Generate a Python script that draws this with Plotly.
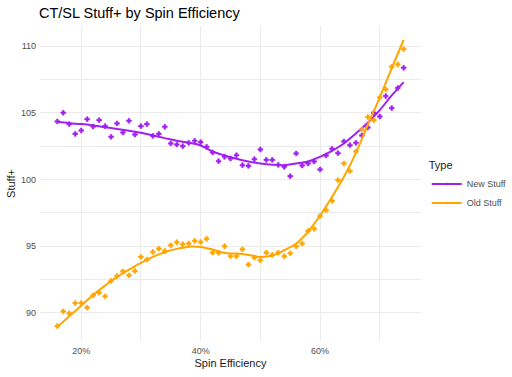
import plotly.graph_objects as go

spin_eff = [v / 100 for v in range(16, 75)]

new_stuff = [104.35, 105.0, 104.15, 103.42, 103.67, 104.52, 103.97, 104.45, 104.0, 103.2,
             104.2, 103.52, 104.4, 103.37, 104.0, 104.15, 103.27, 103.42, 103.95, 102.7,
             102.62, 102.5, 102.75, 102.9, 102.8, 102.45, 102.03, 101.37, 101.7, 101.57,
             101.82, 101.07, 101.02, 101.52, 102.25, 101.47, 101.47, 101.1, 100.95, 100.25,
             101.95, 101.05, 101.2, 101.35, 100.75, 101.8, 102.3, 101.97, 102.85, 102.57,
             102.75, 103.3, 103.9, 105.0, 104.72, 106.25, 105.35, 106.85, 108.37]

old_stuff = [89.02, 90.12, 89.97, 90.74, 90.74, 90.4, 91.32, 91.52, 91.25, 92.4,
             92.77, 93.12, 92.82, 93.15, 94.2, 94.0, 94.57, 94.82, 94.65, 95.07,
             95.3, 95.15, 95.2, 95.4, 95.32, 95.55, 94.52, 94.5, 95.0, 94.26,
             94.26, 94.77, 93.62, 94.15, 93.95, 94.52, 94.35, 94.52, 94.25, 94.47,
             95.0, 95.2, 96.15, 96.3, 97.27, 97.7, 98.4, 99.95, 101.2, 100.62,
             102.1, 103.75, 104.68, 104.45, 106.15, 106.75, 108.45, 108.62, 109.77]

smooth_x = [v / 100 for v in range(16, 75, 2)]
new_smooth = [104.32, 104.22, 104.15, 104.05, 103.92, 103.78, 103.65, 103.5, 103.3, 103.1,
              102.9, 102.75, 102.55, 102.1, 101.8, 101.55, 101.35, 101.2, 101.1, 101.07,
              101.2, 101.35, 101.7, 102.15, 102.7, 103.45, 104.25, 105.2, 106.3, 107.3]
old_smooth = [88.95, 89.75, 90.55, 91.35, 92.05, 92.7, 93.25, 93.75, 94.2, 94.55,
              94.8, 94.97, 94.95, 94.75, 94.5, 94.45, 94.35, 94.2, 94.3, 94.7,
              95.2, 96.1, 97.3, 98.7, 100.2, 102.0, 104.1, 106.15, 108.35, 110.45]

series_names = ["New Stuff", "Old Stuff"]
colors = ["#A020F0", "#FFA500"]

x_ticks = [0.2, 0.4, 0.6]
x_tick_labels = ["20%", "40%", "60%"]
y_ticks = [90, 95, 100, 105, 110]

fig = go.Figure()
for name, pts, sm, col in zip(series_names, [new_stuff, old_stuff], [new_smooth, old_smooth], colors):
    fig.add_trace(go.Scatter(
        x=spin_eff, y=pts, mode="markers", name=name, legendgroup=name, showlegend=False,
        marker=dict(symbol="cross", size=4, color=col, line=dict(width=0.6, color=col)),
    ))
    fig.add_trace(go.Scatter(
        x=smooth_x, y=sm, mode="lines+markers", name=name, legendgroup=name,
        line=dict(color=col, width=2, shape="spline", smoothing=1.0),
        marker=dict(symbol="cross", size=4, color=col, opacity=0),
    ))

grid_col = "#EBEBEB"
fig.update_layout(
    width=512, height=377,
    paper_bgcolor="white", plot_bgcolor="white",
    margin=dict(l=40, r=91, t=26, b=36, autoexpand=False),
    font=dict(family="Liberation Sans, Arial, sans-serif", color="#4D4D4D", size=9),
    title=dict(text="CT/SL Stuff+ by Spin Efficiency", x=0.076, xanchor="left",
               y=0.965, yanchor="middle",
               font=dict(size=14.5, color="black")),
    xaxis=dict(
        range=[0.131, 0.769], tickvals=x_ticks, ticktext=x_tick_labels,
        showgrid=True, gridcolor=grid_col, gridwidth=1.1, zeroline=False,
        showline=False, ticks="", ticklabelstandoff=3, automargin=False,
        title=dict(text="Spin Efficiency", font=dict(size=11, color="#1A1A1A"), standoff=4),
        minor=dict(tickvals=[0.3, 0.5, 0.7], showgrid=True, gridcolor=grid_col, gridwidth=0.6),
    ),
    yaxis=dict(
        range=[87.9, 111.5], tickvals=y_ticks,
        showgrid=True, gridcolor=grid_col, gridwidth=1.1, zeroline=False,
        showline=False, ticks="", ticklabelstandoff=3, automargin=False,
        title=dict(text="Stuff+", font=dict(size=11, color="#1A1A1A"), standoff=3),
        minor=dict(tickvals=[92.5, 97.5, 102.5, 107.5], showgrid=True, gridcolor=grid_col, gridwidth=0.6),
    ),
    legend=dict(
        title=dict(text="Type", font=dict(size=11, color="#1A1A1A")),
        x=1.015, xanchor="left", y=0.49, yanchor="middle",
        font=dict(size=9, color="#4D4D4D"),
        itemwidth=30, tracegroupgap=0, bgcolor="rgba(0,0,0,0)",
    ),
)

fig.write_html("out.html", config={"displayModeBar": False},
               post_script="document.body.style.margin='0px';")
